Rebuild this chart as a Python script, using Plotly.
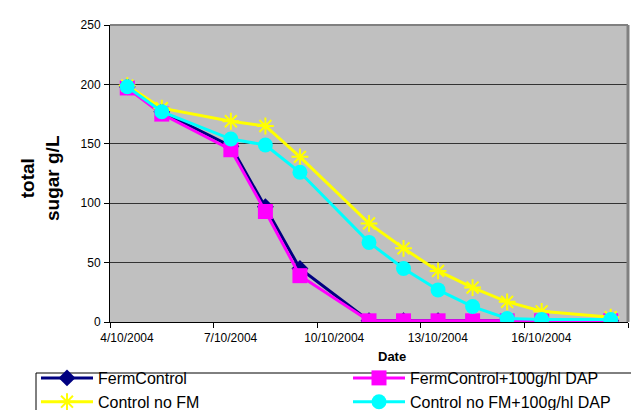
import plotly.graph_objects as go

dates = ["2004-10-04 12:00", "2004-10-05 12:00", "2004-10-07 12:00", "2004-10-08 12:00",
         "2004-10-09 12:00", "2004-10-11 12:00", "2004-10-12 12:00", "2004-10-13 12:00",
         "2004-10-14 12:00", "2004-10-15 12:00", "2004-10-16 12:00", "2004-10-18 12:00"]
ferm_control = [198, 177, 148, 97, 45, 1, 1, 1, 1, 1, 1, 1]
ferm_control_dap = [197, 175, 145, 93, 39, 1, 1, 1, 1, 1, 1, 1]
control_no_fm = [199, 180, 169, 165, 139, 83, 62, 43, 29, 17, 9, 4]
control_no_fm_dap = [198, 177, 154, 149, 126, 67, 45, 27, 13, 3, 2, 2]

FONT = "Liberation Sans, Arial, sans-serif"
W, H = 639, 410
L, R, T, B = 102, 19, 17, 96
PW, PH = W - L - R, H - T - B


def px_x(px):
    return (px - L) / PW


def px_y(py):
    return (H - B - py) / PH


fig = go.Figure()
fig.add_trace(go.Scatter(x=dates, y=ferm_control, name="FermControl", mode="lines+markers",
                         line=dict(color="#000080", width=3),
                         marker=dict(symbol="diamond", size=13, color="#000080"),
                         legend="legend"))
fig.add_trace(go.Scatter(x=dates, y=ferm_control_dap, name="FermControl+100g/hl DAP",
                         mode="lines+markers", line=dict(color="#FF00FF", width=3),
                         marker=dict(symbol="square", size=15, color="#FF00FF"),
                         legend="legend2"))
fig.add_trace(go.Scatter(x=dates, y=control_no_fm, name="Control no FM", mode="lines+markers",
                         line=dict(color="#FFFF00", width=3),
                         marker=dict(symbol="asterisk-open", size=14,
                                     line=dict(color="#FFFF00", width=2)),
                         legend="legend"))
fig.add_trace(go.Scatter(x=dates, y=control_no_fm_dap, name="Control no FM+100g/hl DAP",
                         mode="lines+markers", line=dict(color="#00FFFF", width=3),
                         marker=dict(symbol="circle", size=15, color="#00FFFF"),
                         legend="legend2"))

legend_common = dict(font=dict(family=FONT, size=16, color="black"),
                     bgcolor="rgba(0,0,0,0)", borderwidth=0, orientation="v",
                     xanchor="left", yanchor="top", itemwidth=52, tracegroupgap=0,
                     traceorder="normal")

fig.update_layout(
    width=W, height=H,
    margin=dict(l=L, r=R, t=T, b=B, autoexpand=False),
    paper_bgcolor="white", plot_bgcolor="#C0C0C0",
    font=dict(family=FONT, color="black"),
    legend=dict(x=px_x(28), y=px_y(353), **legend_common),
    legend2=dict(x=px_x(340), y=px_y(353), **legend_common),
    xaxis=dict(type="date", range=["2004-10-04", "2004-10-19"],
               tick0="2004-10-04", dtick=3 * 86400000, tickformat="%-d/%-m/%Y",
               ticks="outside", ticklen=5, tickcolor="black", ticklabelshift=17,
               tickfont=dict(family=FONT, size=12, color="black"),
               showgrid=False, zeroline=False, showline=True, linecolor="black", linewidth=1),
    yaxis=dict(range=[0, 250], dtick=50, ticks="outside", ticklen=5, tickcolor="black",
               tickfont=dict(family=FONT, size=12, color="black"), ticklabelstandoff=1,
               showgrid=True, gridcolor="#333333", gridwidth=1, zeroline=False,
               showline=True, linecolor="black", linewidth=1),
    showlegend=True,
)

fig.add_annotation(text="<b>total<br>sugar g/L</b>", xref="paper", yref="paper",
                   x=px_x(32), y=px_y(170), xanchor="center", yanchor="middle",
                   textangle=-90, showarrow=False,
                   font=dict(family=FONT, size=19, color="black"))
fig.add_annotation(text="<b>Date</b>", xref="paper", yref="paper",
                   x=px_x(384), y=px_y(348), xanchor="center", yanchor="middle",
                   showarrow=False, font=dict(family=FONT, size=13, color="black"))

# plot area border (top and right, grey)
fig.add_shape(type="line", xref="paper", yref="paper", x0=0, x1=1, y0=1, y1=1,
              line=dict(color="#808080", width=2), layer="above")
fig.add_shape(type="line", xref="paper", yref="paper", x0=1, x1=1, y0=0, y1=1,
              line=dict(color="#808080", width=3), layer="above")
# legend box
fig.add_shape(type="rect", xref="paper", yref="paper",
              x0=px_x(28), x1=px_x(660), y0=px_y(365), y1=px_y(430),
              line=dict(color="black", width=1), fillcolor="rgba(0,0,0,0)", layer="above")

fig.write_html("out.html")
